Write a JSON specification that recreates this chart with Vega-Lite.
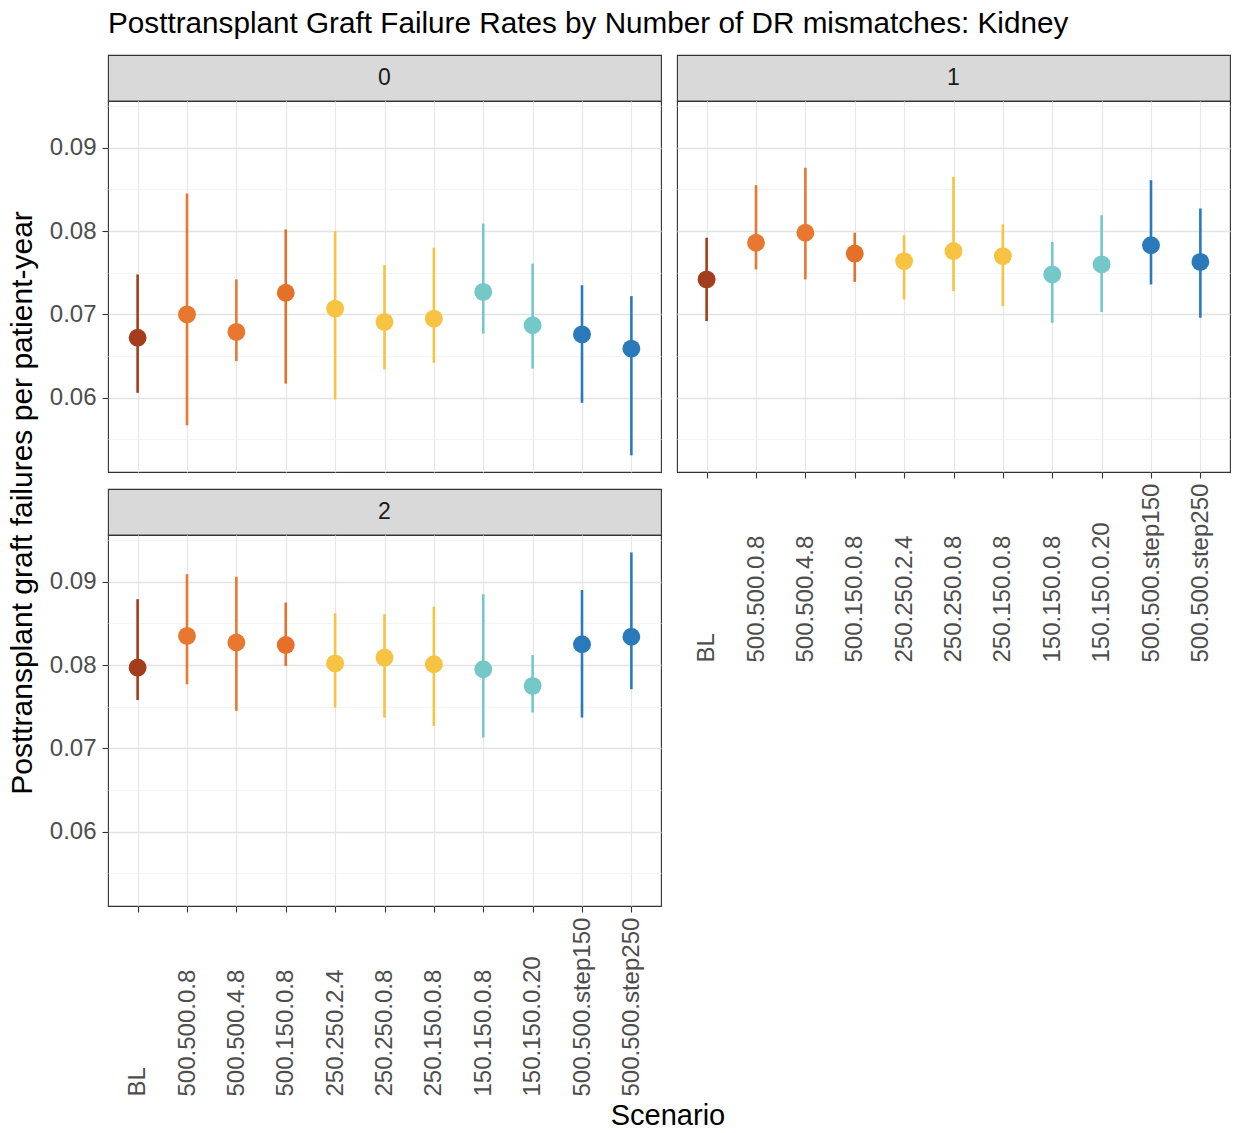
{
  "$schema": "https://vega.github.io/schema/vega-lite/v6.json",
  "padding": {"left": 0, "top": 8, "right": 5, "bottom": 0},
  "background": "white",
  "title": {"text": "Posttransplant Graft Failure Rates by Number of DR mismatches: Kidney", "anchor": "start", "dx": 108, "fontSize": 29.7, "font": "Liberation Sans", "fontWeight": "normal", "color": "#000000", "offset": 15},
  "config": {
    "font": "Liberation Sans",
    "view": {"stroke": "#333333", "strokeWidth": 1.1},
    "axis": {"labelFont": "Liberation Sans", "labelFontSize": 24, "labelColor": "#4d4d4d", "tickColor": "#333333", "tickSize": 6, "tickWidth": 1.1, "domain": false, "gridColor": "#e6e6e6", "gridWidth": 1.2}
  },
  "datasets": {
    "rates": [
      {"DR": 0, "Scenario": "BL", "rate": 0.0672, "lo": 0.0606, "hi": 0.0748},
      {"DR": 0, "Scenario": "500.500.0.8", "rate": 0.0700, "lo": 0.0567, "hi": 0.0845},
      {"DR": 0, "Scenario": "500.500.4.8", "rate": 0.0679, "lo": 0.0644, "hi": 0.0742},
      {"DR": 0, "Scenario": "500.150.0.8", "rate": 0.0726, "lo": 0.0617, "hi": 0.0802},
      {"DR": 0, "Scenario": "250.250.2.4", "rate": 0.0707, "lo": 0.0598, "hi": 0.0800},
      {"DR": 0, "Scenario": "250.250.0.8", "rate": 0.0691, "lo": 0.0634, "hi": 0.0759},
      {"DR": 0, "Scenario": "250.150.0.8", "rate": 0.0695, "lo": 0.0642, "hi": 0.0780},
      {"DR": 0, "Scenario": "150.150.0.8", "rate": 0.0727, "lo": 0.0677, "hi": 0.0809},
      {"DR": 0, "Scenario": "150.150.0.20", "rate": 0.0687, "lo": 0.0635, "hi": 0.0761},
      {"DR": 0, "Scenario": "500.500.step150", "rate": 0.0676, "lo": 0.0594, "hi": 0.0735},
      {"DR": 0, "Scenario": "500.500.step250", "rate": 0.0659, "lo": 0.0531, "hi": 0.0722},
      {"DR": 1, "Scenario": "BL", "rate": 0.0742, "lo": 0.0692, "hi": 0.0792},
      {"DR": 1, "Scenario": "500.500.0.8", "rate": 0.0786, "lo": 0.0754, "hi": 0.0855},
      {"DR": 1, "Scenario": "500.500.4.8", "rate": 0.0798, "lo": 0.0742, "hi": 0.0876},
      {"DR": 1, "Scenario": "500.150.0.8", "rate": 0.0773, "lo": 0.0739, "hi": 0.0798},
      {"DR": 1, "Scenario": "250.250.2.4", "rate": 0.0764, "lo": 0.0718, "hi": 0.0795},
      {"DR": 1, "Scenario": "250.250.0.8", "rate": 0.0776, "lo": 0.0728, "hi": 0.0865},
      {"DR": 1, "Scenario": "250.150.0.8", "rate": 0.0770, "lo": 0.0710, "hi": 0.0808},
      {"DR": 1, "Scenario": "150.150.0.8", "rate": 0.0748, "lo": 0.0690, "hi": 0.0787},
      {"DR": 1, "Scenario": "150.150.0.20", "rate": 0.0760, "lo": 0.0703, "hi": 0.0819},
      {"DR": 1, "Scenario": "500.500.step150", "rate": 0.0783, "lo": 0.0736, "hi": 0.0861},
      {"DR": 1, "Scenario": "500.500.step250", "rate": 0.0763, "lo": 0.0696, "hi": 0.0827},
      {"DR": 2, "Scenario": "BL", "rate": 0.0797, "lo": 0.0758, "hi": 0.0879},
      {"DR": 2, "Scenario": "500.500.0.8", "rate": 0.0835, "lo": 0.0777, "hi": 0.0909},
      {"DR": 2, "Scenario": "500.500.4.8", "rate": 0.0827, "lo": 0.0745, "hi": 0.0906},
      {"DR": 2, "Scenario": "500.150.0.8", "rate": 0.0824, "lo": 0.0799, "hi": 0.0875},
      {"DR": 2, "Scenario": "250.250.2.4", "rate": 0.0802, "lo": 0.0749, "hi": 0.0862},
      {"DR": 2, "Scenario": "250.250.0.8", "rate": 0.0809, "lo": 0.0737, "hi": 0.0861},
      {"DR": 2, "Scenario": "250.150.0.8", "rate": 0.0801, "lo": 0.0727, "hi": 0.0870},
      {"DR": 2, "Scenario": "150.150.0.8", "rate": 0.0795, "lo": 0.0713, "hi": 0.0885},
      {"DR": 2, "Scenario": "150.150.0.20", "rate": 0.0775, "lo": 0.0743, "hi": 0.0812},
      {"DR": 2, "Scenario": "500.500.step150", "rate": 0.0825, "lo": 0.0737, "hi": 0.0890},
      {"DR": 2, "Scenario": "500.500.step250", "rate": 0.0834, "lo": 0.0771, "hi": 0.0935}
    ],
    "strips": [{"DR": "0"}, {"DR": "1"}, {"DR": "2"}],
    "titles": [{"y": "Posttransplant graft failures per patient-year", "x": "Scenario"}]
  },
  "hconcat": [
    {
      "width": 46, "height": 896,
      "data": {"name": "titles"},
      "mark": {"type": "text", "angle": 270, "fontSize": 30, "color": "#000000", "align": "center", "baseline": "middle"},
      "encoding": {"text": {"field": "y"}},
      "view": {"stroke": null}
    },
    {
      "spacing": 5,
      "vconcat": [
        {
          "columns": 2,
          "align": "each",
          "bounds": "flush",
          "spacing": {"row": 0, "column": 16},
          "concat": [
            {
              "width": 553, "height": 46,
              "data": {"name": "strips"},
              "transform": [{"filter": "datum.DR == '0'"}],
              "mark": {"type": "text", "fontSize": 23, "color": "#1a1a1a", "align": "center", "baseline": "middle"},
              "encoding": {"text": {"field": "DR"}},
              "view": {"fill": "#d9d9d9", "stroke": "#333333", "strokeWidth": 1.1}
            },
            {
              "width": 553, "height": 46,
              "data": {"name": "strips"},
              "transform": [{"filter": "datum.DR == '1'"}],
              "mark": {"type": "text", "fontSize": 23, "color": "#1a1a1a", "align": "center", "baseline": "middle"},
              "encoding": {"text": {"field": "DR"}},
              "view": {"fill": "#d9d9d9", "stroke": "#333333", "strokeWidth": 1.1}
            },
            {
              "width": 553, "height": 371,
              "data": {"name": "rates"},
              "transform": [{"filter": "datum.DR == 0"}],
              "encoding": {
                "x": {"field": "Scenario", "type": "nominal", "sort": null, "title": null,
                      "scale": {"type": "point", "padding": 0.6, "domain": ["BL","500.500.0.8","500.500.4.8","500.150.0.8","250.250.2.4","250.250.0.8","250.150.0.8","150.150.0.8","150.150.0.20","500.500.step150","500.500.step250"]},
                      "axis": {"labels": false, "ticks": false, "grid": true, "title": null}},
                "color": {"field": "Scenario", "type": "nominal", "legend": null,
                          "scale": {"domain": ["BL","500.500.0.8","500.500.4.8","500.150.0.8","250.250.2.4","250.250.0.8","250.150.0.8","150.150.0.8","150.150.0.20","500.500.step150","500.500.step250"],
                                    "range": ["#a33d1d","#e8782f","#e8782f","#e5702a","#f6c343","#f6c343","#f6c343","#74c8c7","#74c8c7","#2a7ab9","#2a7ab9"]}}
              },
              "layer": [
                {
                  "mark": {"type": "rule", "strokeWidth": 2.6},
                  "encoding": {
                    "y": {"field": "lo", "type": "quantitative", "title": null,
                          "scale": {"domain": [0.0511, 0.0956], "nice": false, "zero": false},
                          "axis": {"values": [0.055,0.06,0.065,0.07,0.075,0.08,0.085,0.09,0.095], "format": ".2f", "title": null, "labelPadding": 6,
                                   "labelExpr": "round(datum.value*200) % 2 == 0 ? datum.label : ''",
                                   "tickOpacity": {"condition": {"test": "round(datum.value*200) % 2 == 0", "value": 1}, "value": 0},
                                   "gridColor": {"condition": {"test": "round(datum.value*200) % 2 == 0", "value": "#e3e3e3"}, "value": "#f1f1f1"},
                                   "gridWidth": {"condition": {"test": "round(datum.value*200) % 2 == 0", "value": 1.3}, "value": 0.8}}},
                    "y2": {"field": "hi"}
                  }
                },
                {
                  "mark": {"type": "point", "filled": true, "size": 320, "opacity": 1},
                  "encoding": {
                    "y": {"field": "rate", "type": "quantitative", "title": null,
                          "scale": {"domain": [0.0511, 0.0956], "nice": false, "zero": false},
                          "axis": {"values": [0.055,0.06,0.065,0.07,0.075,0.08,0.085,0.09,0.095], "format": ".2f", "title": null, "labelPadding": 6,
                                   "labelExpr": "round(datum.value*200) % 2 == 0 ? datum.label : ''",
                                   "tickOpacity": {"condition": {"test": "round(datum.value*200) % 2 == 0", "value": 1}, "value": 0},
                                   "gridColor": {"condition": {"test": "round(datum.value*200) % 2 == 0", "value": "#e3e3e3"}, "value": "#f1f1f1"},
                                   "gridWidth": {"condition": {"test": "round(datum.value*200) % 2 == 0", "value": 1.3}, "value": 0.8}}}
                  }
                }
              ]
            },
            {
              "width": 553, "height": 371,
              "data": {"name": "rates"},
              "transform": [{"filter": "datum.DR == 1"}],
              "encoding": {
                "x": {"field": "Scenario", "type": "nominal", "sort": null, "title": null,
                      "scale": {"type": "point", "padding": 0.6, "domain": ["BL","500.500.0.8","500.500.4.8","500.150.0.8","250.250.2.4","250.250.0.8","250.150.0.8","150.150.0.8","150.150.0.20","500.500.step150","500.500.step250"]},
                      "axis": {"labelAngle": -90, "labelAlign": "left", "labelBaseline": "middle", "labelPadding": 184, "labelOverlap": false, "labelBound": false, "labelFlush": false, "grid": true, "title": null}},
                "color": {"field": "Scenario", "type": "nominal", "legend": null,
                          "scale": {"domain": ["BL","500.500.0.8","500.500.4.8","500.150.0.8","250.250.2.4","250.250.0.8","250.150.0.8","150.150.0.8","150.150.0.20","500.500.step150","500.500.step250"],
                                    "range": ["#a33d1d","#e8782f","#e8782f","#e5702a","#f6c343","#f6c343","#f6c343","#74c8c7","#74c8c7","#2a7ab9","#2a7ab9"]}}
              },
              "layer": [
                {
                  "mark": {"type": "rule", "strokeWidth": 2.6},
                  "encoding": {
                    "y": {"field": "lo", "type": "quantitative", "title": null,
                          "scale": {"domain": [0.0511, 0.0956], "nice": false, "zero": false},
                          "axis": {"values": [0.055,0.06,0.065,0.07,0.075,0.08,0.085,0.09,0.095], "labels": false, "ticks": false, "title": null,
                                   "gridColor": {"condition": {"test": "round(datum.value*200) % 2 == 0", "value": "#e3e3e3"}, "value": "#f1f1f1"},
                                   "gridWidth": {"condition": {"test": "round(datum.value*200) % 2 == 0", "value": 1.3}, "value": 0.8}}},
                    "y2": {"field": "hi"}
                  }
                },
                {
                  "mark": {"type": "point", "filled": true, "size": 320, "opacity": 1},
                  "encoding": {
                    "y": {"field": "rate", "type": "quantitative", "title": null,
                          "scale": {"domain": [0.0511, 0.0956], "nice": false, "zero": false},
                          "axis": {"values": [0.055,0.06,0.065,0.07,0.075,0.08,0.085,0.09,0.095], "labels": false, "ticks": false, "title": null,
                                   "gridColor": {"condition": {"test": "round(datum.value*200) % 2 == 0", "value": "#e3e3e3"}, "value": "#f1f1f1"},
                                   "gridWidth": {"condition": {"test": "round(datum.value*200) % 2 == 0", "value": 1.3}, "value": 0.8}}}
                  }
                }
              ]
            },
            {
              "width": 553, "height": 17,
              "data": {"values": [{}]},
              "mark": {"type": "text"},
              "encoding": {"text": {"value": ""}},
              "view": {"stroke": null}
            },
            {
              "width": 553, "height": 17,
              "data": {"values": [{}]},
              "mark": {"type": "text"},
              "encoding": {"text": {"value": ""}},
              "view": {"stroke": null}
            },
            {
              "width": 553, "height": 46,
              "data": {"name": "strips"},
              "transform": [{"filter": "datum.DR == '2'"}],
              "mark": {"type": "text", "fontSize": 23, "color": "#1a1a1a", "align": "center", "baseline": "middle"},
              "encoding": {"text": {"field": "DR"}},
              "view": {"fill": "#d9d9d9", "stroke": "#333333", "strokeWidth": 1.1}
            },
            {
              "width": 553, "height": 46,
              "data": {"values": [{}]},
              "mark": {"type": "text"},
              "encoding": {"text": {"value": ""}},
              "view": {"stroke": null}
            },
            {
              "width": 553, "height": 371,
              "data": {"name": "rates"},
              "transform": [{"filter": "datum.DR == 2"}],
              "encoding": {
                "x": {"field": "Scenario", "type": "nominal", "sort": null, "title": null,
                      "scale": {"type": "point", "padding": 0.6, "domain": ["BL","500.500.0.8","500.500.4.8","500.150.0.8","250.250.2.4","250.250.0.8","250.150.0.8","150.150.0.8","150.150.0.20","500.500.step150","500.500.step250"]},
                      "axis": {"labelAngle": -90, "labelAlign": "left", "labelBaseline": "middle", "labelPadding": 184, "labelOverlap": false, "labelBound": false, "labelFlush": false, "grid": true, "title": null}},
                "color": {"field": "Scenario", "type": "nominal", "legend": null,
                          "scale": {"domain": ["BL","500.500.0.8","500.500.4.8","500.150.0.8","250.250.2.4","250.250.0.8","250.150.0.8","150.150.0.8","150.150.0.20","500.500.step150","500.500.step250"],
                                    "range": ["#a33d1d","#e8782f","#e8782f","#e5702a","#f6c343","#f6c343","#f6c343","#74c8c7","#74c8c7","#2a7ab9","#2a7ab9"]}}
              },
              "layer": [
                {
                  "mark": {"type": "rule", "strokeWidth": 2.6},
                  "encoding": {
                    "y": {"field": "lo", "type": "quantitative", "title": null,
                          "scale": {"domain": [0.0511, 0.0956], "nice": false, "zero": false},
                          "axis": {"values": [0.055,0.06,0.065,0.07,0.075,0.08,0.085,0.09,0.095], "format": ".2f", "title": null, "labelPadding": 6,
                                   "labelExpr": "round(datum.value*200) % 2 == 0 ? datum.label : ''",
                                   "tickOpacity": {"condition": {"test": "round(datum.value*200) % 2 == 0", "value": 1}, "value": 0},
                                   "gridColor": {"condition": {"test": "round(datum.value*200) % 2 == 0", "value": "#e3e3e3"}, "value": "#f1f1f1"},
                                   "gridWidth": {"condition": {"test": "round(datum.value*200) % 2 == 0", "value": 1.3}, "value": 0.8}}},
                    "y2": {"field": "hi"}
                  }
                },
                {
                  "mark": {"type": "point", "filled": true, "size": 320, "opacity": 1},
                  "encoding": {
                    "y": {"field": "rate", "type": "quantitative", "title": null,
                          "scale": {"domain": [0.0511, 0.0956], "nice": false, "zero": false},
                          "axis": {"values": [0.055,0.06,0.065,0.07,0.075,0.08,0.085,0.09,0.095], "format": ".2f", "title": null, "labelPadding": 6,
                                   "labelExpr": "round(datum.value*200) % 2 == 0 ? datum.label : ''",
                                   "tickOpacity": {"condition": {"test": "round(datum.value*200) % 2 == 0", "value": 1}, "value": 0},
                                   "gridColor": {"condition": {"test": "round(datum.value*200) % 2 == 0", "value": "#e3e3e3"}, "value": "#f1f1f1"},
                                   "gridWidth": {"condition": {"test": "round(datum.value*200) % 2 == 0", "value": 1.3}, "value": 0.8}}}
                  }
                }
              ]
            }
          ]
        },
        {
          "width": 1120, "height": 28,
          "data": {"name": "titles"},
          "mark": {"type": "text", "fontSize": 29, "color": "#000000", "align": "center", "baseline": "middle"},
          "encoding": {"text": {"field": "x"}},
          "view": {"stroke": null}
        }
      ]
    }
  ],
  "spacing": 2
}
